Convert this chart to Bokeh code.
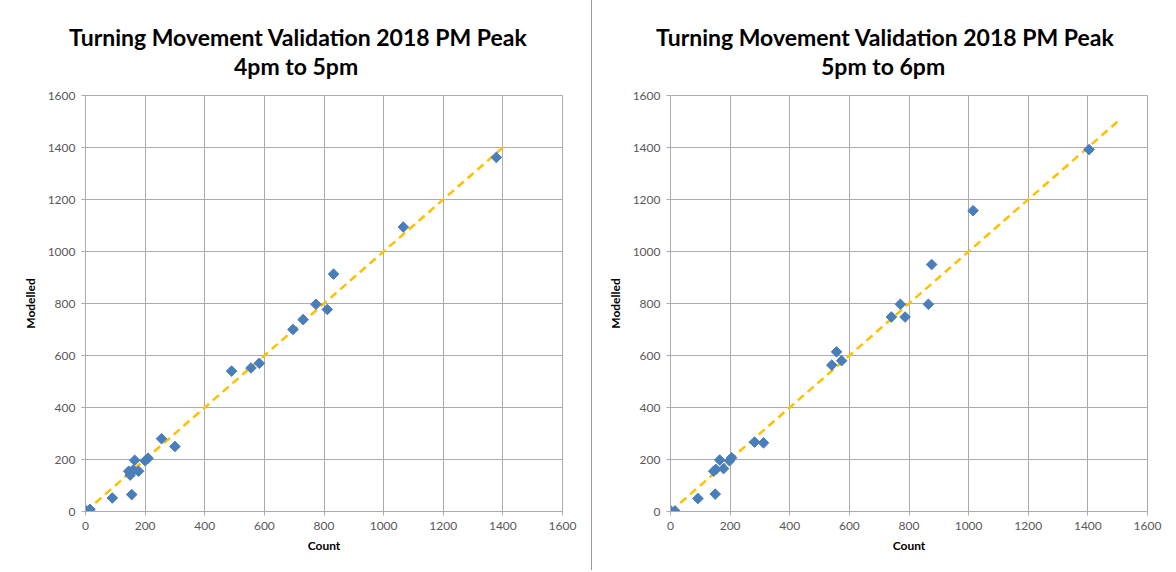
from bokeh.plotting import figure
from bokeh.layouts import row
from bokeh.models import Range1d, FixedTicker, Title
from bokeh.embed import file_html
from bokeh.resources import INLINE

# ---- data ----
count_4_5 = [0, 15, 90, 155, 145, 150, 160, 178, 165, 200, 210, 255, 300,
             490, 555, 583, 696, 730, 773, 811, 832, 1066, 1378]
modelled_4_5 = [5, 8, 52, 65, 155, 140, 160, 155, 197, 195, 205, 280, 250,
                540, 552, 570, 700, 738, 797, 777, 913, 1094, 1362]

count_5_6 = [0, 15, 92, 150, 145, 152, 165, 178, 198, 205, 282, 312,
             541, 557, 574, 741, 771, 787, 865, 876, 1015, 1404]
modelled_5_6 = [4, 2, 50, 67, 155, 162, 198, 165, 195, 207, 267, 264,
                563, 614, 580, 748, 797, 748, 797, 950, 1157, 1392]

line_4_5 = [0, 1400]
line_5_6 = [0, 1500]

ticks = [0, 200, 400, 600, 800, 1000, 1200, 1400, 1600]
title_main = "Turning Movement Validation 2018 PM Peak"
subtitles = ["4pm to 5pm", "5pm to 6pm"]
x_label = "Count"
y_label = "Modelled"

FONT = "Lato"
GRID = "#ababab"
H = 570


def make(sub, xs, ys, line, width, bl, br, off1, off2):
    p = figure(width=width, height=H, output_backend="svg", toolbar_location=None,
               x_range=Range1d(0, 1600), y_range=Range1d(0, 1600),
               min_border_left=bl, min_border_right=br,
               min_border_top=95, min_border_bottom=H - 95 - 416)
    p.title = None
    # titles: added bottom line first (closest to the plot)
    p.add_layout(Title(text=sub, align="left", offset=off2, text_font=FONT,
                       text_font_size="23px", text_font_style="bold",
                       text_color="#000000", standoff=31), "above")
    p.add_layout(Title(text=title_main, align="left", offset=off1, text_font=FONT,
                       text_font_size="23px", text_font_style="bold",
                       text_color="#000000", standoff=-33), "above")
    p.outline_line_color = GRID
    p.background_fill_color = "white"
    p.border_fill_color = "white"
    for ax in (p.xaxis[0], p.yaxis[0]):
        ax.ticker = FixedTicker(ticks=ticks)
        ax.minor_tick_line_color = None
        ax.axis_line_color = GRID
        ax.major_tick_line_color = GRID
        ax.major_tick_out = 4
        ax.major_tick_in = 0
        ax.major_label_text_font = FONT
        ax.major_label_text_font_size = "12px"
        ax.major_label_text_color = "#595959"
        ax.axis_label_text_font = FONT
        ax.axis_label_text_font_size = "12px"
        ax.axis_label_text_font_style = "bold"
        ax.axis_label_text_color = "#000000"
    p.xaxis.axis_label = x_label
    p.yaxis.axis_label = y_label
    p.xaxis.major_label_standoff = 6
    p.yaxis.major_label_standoff = 6
    p.xaxis.axis_label_standoff = 5
    p.yaxis.axis_label_standoff = 7
    p.xgrid.grid_line_color = GRID
    p.ygrid.grid_line_color = GRID
    p.xgrid.ticker = FixedTicker(ticks=ticks)
    p.ygrid.ticker = FixedTicker(ticks=ticks)

    p.line(line, line, line_color="#FFC000", line_width=2.5, line_dash="8 5")
    p.scatter(xs, ys, marker="square", angle=0.785398, size=7.5,
              fill_color="#4A7EBB", line_color="#4A7EBB")
    return p


left = make(subtitles[0], count_4_5, modelled_4_5, line_4_5, 592, 85, 30, -16.5, 148.5)
right = make(subtitles[1], count_5_6, modelled_5_6, line_5_6, 580, 78, 25, -14.5, 150.5)
left.styles = {"border-right": "1px solid #9a9a9a"}

layout = row(left, right)
open("out.html", "w").write(file_html(layout, INLINE))
